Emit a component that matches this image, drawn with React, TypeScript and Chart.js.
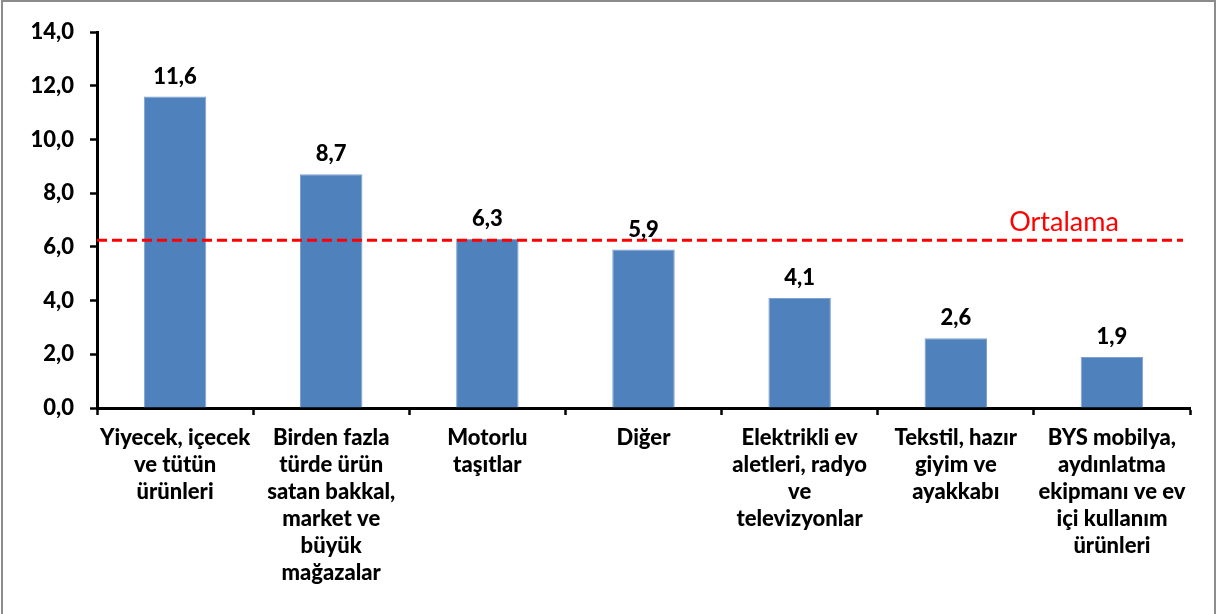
import React, { useEffect, useRef } from "react";
import { Chart, registerables } from "chart.js";

Chart.register(...registerables);

const categories: string[][] = [
  ["Yiyecek, içecek", "ve tütün", "ürünleri"],
  ["Birden fazla", "türde ürün", "satan bakkal,", "market ve", "büyük", "mağazalar"],
  ["Motorlu", "taşıtlar"],
  ["Diğer"],
  ["Elektrikli ev", "aletleri, radyo", "ve", "televizyonlar"],
  ["Tekstil, hazır", "giyim ve", "ayakkabı"],
  ["BYS mobilya,", "aydınlatma", "ekipmanı ve ev", "içi kullanım", "ürünleri"],
];
const values: number[] = [11.6, 8.7, 6.3, 5.9, 4.1, 2.6, 1.9];
const averageValue = 6.25;
const averageLabel = "Ortalama";
const yMin = 0;
const yMax = 14;
const yStep = 2;

const fmt = (v: number) => v.toFixed(1).replace(".", ",");

const FONT = "Lato, 'Open Sans', sans-serif";
const W = "900";

const overlayPlugin = {
  id: "overlay",
  afterDatasetsDraw(chart: any) {
    const { ctx, chartArea, scales } = chart;
    const meta = chart.getDatasetMeta(0);
    ctx.save();
    // average line
    const y = scales.y.getPixelForValue(averageValue);
    ctx.strokeStyle = "#FF0000";
    ctx.lineWidth = 3;
    ctx.setLineDash([10, 5]);
    ctx.beginPath();
    ctx.moveTo(chartArea.left, y);
    ctx.lineTo(chartArea.right - 7, y);
    ctx.stroke();
    ctx.setLineDash([]);
    ctx.fillStyle = "#FF0000";
    ctx.font = `400 27px ${FONT}`;
    ctx.textAlign = "center";
    ctx.textBaseline = "middle";
    ctx.fillText(averageLabel, 1064, y - 18);
    // data labels
    ctx.fillStyle = "#000";
    ctx.font = `${W} 22px ${FONT}`;
    meta.data.forEach((bar: any, i: number) => {
      ctx.fillText(fmt(values[i]), bar.x, bar.y - 20);
    });
    ctx.restore();
  },
  afterDraw(chart: any) {
    const { ctx } = chart;
    ctx.save();
    ctx.strokeStyle = "#8C8C8C";
    ctx.lineWidth = 2;
    ctx.strokeRect(2, 1, 1213, 620);
    ctx.restore();
  },
};

export default function App() {
  const ref = useRef<HTMLCanvasElement>(null);
  useEffect(() => {
    document.body.style.margin = "0";
    const chart = new Chart(ref.current!, {
      type: "bar",
      data: {
        labels: categories,
        datasets: [
          {
            data: values,
            backgroundColor: "#4F81BD",
            borderColor: "#7EA1D0",
            borderWidth: 1,
            categoryPercentage: 1,
            barPercentage: 0.4,
          },
        ],
      },
      options: {
        animation: false,
        responsive: false,
        maintainAspectRatio: false,
        layout: { padding: { top: 32, right: 29, bottom: 0, left: 0 } },
        plugins: {
          legend: { display: false },
          tooltip: { enabled: false },
        },
        scales: {
          x: {
            grid: {
              display: true,
              offset: true,
              drawOnChartArea: false,
              drawTicks: true,
              tickLength: 7,
              tickColor: "#000",
              tickWidth: 2.5,
            },
            border: { color: "#000", width: 3 },
            ticks: {
              color: "#000",
              font: { family: FONT, size: 22, weight: W, lineHeight: 27 / 22 },
              padding: 9,
              maxRotation: 0,
              autoSkip: false,
            },
            afterFit: (s: any) => {
              s.height = 614 - 408;
            },
          },
          y: {
            min: yMin,
            max: yMax,
            grid: {
              display: true,
              drawOnChartArea: false,
              drawTicks: true,
              tickLength: 7,
              tickColor: "#000",
              tickWidth: 2.5,
            },
            border: { color: "#000", width: 3 },
            ticks: {
              stepSize: yStep,
              color: "#000",
              font: { family: FONT, size: 22, weight: W },
              padding: 16,
              callback: (v: any) => fmt(Number(v)),
            },
            afterFit: (s: any) => {
              s.width = 97;
            },
          },
        },
      },
      plugins: [overlayPlugin],
    });
    return () => chart.destroy();
  }, []);
  return (
    <div style={{ position: "absolute", left: 0, top: 0, width: 1219, height: 614, background: "#fff" }}>
      <canvas ref={ref} width={1219} height={614} style={{ display: "block" }} />
    </div>
  );
}
